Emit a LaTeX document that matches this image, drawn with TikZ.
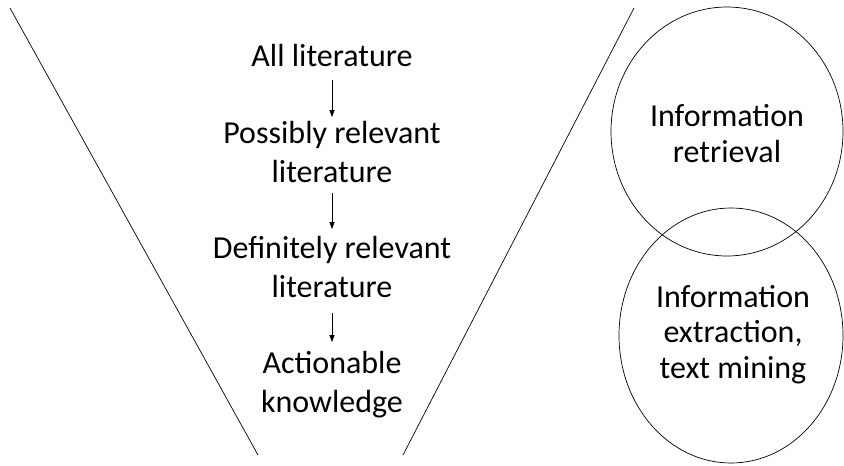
\documentclass[tikz,border=0pt]{standalone}
\usepackage{fontspec}
\setmainfont{Carlito}
\usetikzlibrary{arrows.meta}

\begin{document}
\begin{tikzpicture}[x=1pt, y=-1pt,
		stage/.style={align=center, anchor=base, inner sep=0pt,
			font=\fontsize{32}{38.5}\selectfont},
		topic/.style={align=center, anchor=base, inner sep=0pt,
			font=\fontsize{32}{35.5}\selectfont},
		flow/.style={-{Triangle[length=7pt, width=5pt]}, line width=0.8pt},
		thin line/.style={line width=0.7pt}]
		\useasboundingbox (0,0) rectangle (844,466);

		\def\xMID{332};

		% funnel
		\coordinate (TL) at (10,8);
		\coordinate (BL) at (258,455);
		\coordinate (TR) at (634,8);
		\coordinate (BR) at (403,455);

		\draw [thin line] (TL) -- (BL);
		\draw [thin line] (TR) -- (BR);

		% stages (anchor base = last line)
		\node [stage] (all)  at (\xMID,66)  {All literature};
		\node [stage] (poss) at (\xMID,182) {Possibly relevant\\literature};
		\node [stage] (defi) at (\xMID,297) {Definitely relevant\\literature};
		\node [stage] (act)  at (\xMID,412) {Actionable\\knowledge};

		\draw [flow, shorten <=14pt, shorten >=4pt] (all.south) -- (poss.north);
		\draw [flow, shorten <=11pt, shorten >=7pt] (poss.south) -- (defi.north);
		\draw [flow, shorten <=16pt, shorten >=9pt] (defi.south) -- (act.north);

	%	\draw [very thin, lightgray] (0,0) grid (844,466);
		\draw [thin line] (727,131.5) ellipse [x radius=116, y radius=124.5];
		\draw [thin line] (731,335.5) ellipse [x radius=112, y radius=127.5];

		\node [topic] (ir) at (727,162) {Information\\retrieval};
		\node [topic] (ie) at (733,378) {Information\\extraction,\\text mining};
	\end{tikzpicture}
\end{document}
